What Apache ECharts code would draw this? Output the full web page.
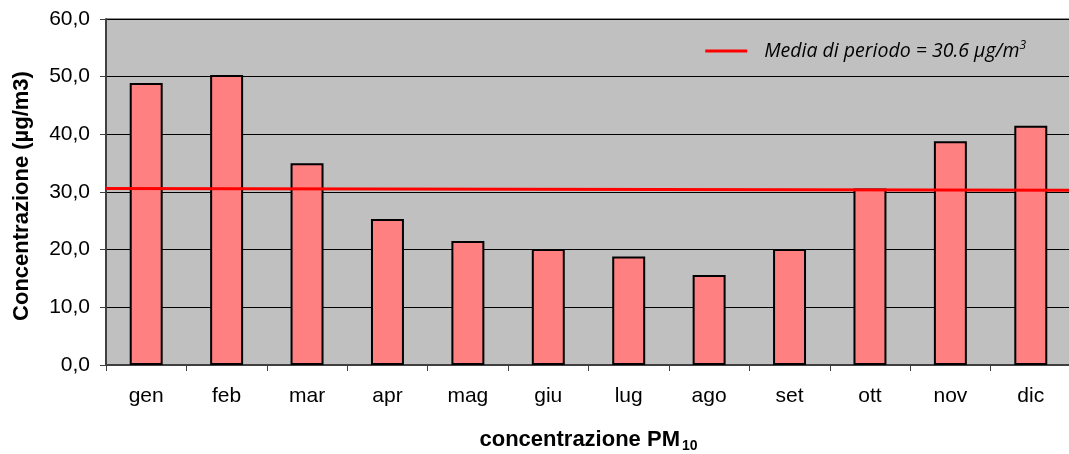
<!DOCTYPE html>
<html>
<head>
<meta charset="utf-8">
<script src="https://cdn.jsdelivr.net/npm/echarts@6/dist/echarts.min.js"></script>
<style>
  html, body { margin: 0; padding: 0; background: #fff; }
  #chart { width: 1069px; height: 454px; }
</style>
</head>
<body>
<div id="chart"></div>
<script>
// dati PM10 mensili (µg/m3)
const mesi = ['gen', 'feb', 'mar', 'apr', 'mag', 'giu', 'lug', 'ago', 'set', 'ott', 'nov', 'dic'];
const concentrazioni = [48.9, 50.3, 35.0, 25.3, 21.5, 20.1, 18.8, 15.6, 20.1, 30.6, 38.8, 41.5];
// linea della media: estremi sinistro e destro dell'area del grafico
const mediaX = [0, 1];
const mediaY = [30.6, 30.3];
const yTicks = [0, 10, 20, 30, 40, 50, 60];

const chart = echarts.init(document.getElementById('chart'));

const font = 'Liberation Sans, Arial, sans-serif';

chart.setOption({
  animation: false,
  backgroundColor: '#ffffff',
  grid: {
    left: 106, right: -2, top: 19, bottom: 89,
    outerBoundsMode: 'none',
    containLabel: false,
    show: true,
    backgroundColor: '#c0c0c0',
    borderWidth: 0
  },
  legend: {
    right: 38, top: 35,
    itemWidth: 42, itemHeight: 3,
    itemGap: 10,
    icon: 'rect',
    data: ['media'],
    formatter: () => '{t|Media di periodo = 30.6 \u00b5g/m}{s|3}',
    textStyle: {
      rich: {
        t: { fontFamily: 'Open Sans', fontStyle: 'italic', fontSize: 19.5, color: '#000', padding: [0, 0, 0, 12] },
        s: { fontFamily: 'Open Sans', fontStyle: 'italic', fontSize: 12, color: '#000', verticalAlign: 'top', padding: [0, 0, 10, 0] }
      }
    }
  },
  xAxis: [
    {
      type: 'category',
      data: mesi,
      axisLine: { lineStyle: { color: '#404040', width: 2 } },
      axisTick: { show: true, length: 6, alignWithLabel: false, lineStyle: { color: '#404040' } },
      axisLabel: { color: '#000', fontFamily: font, fontSize: 21, margin: 21 },
      name: '{a|concentrazione PM}{b|10}',
      nameLocation: 'middle',
      nameGap: 62,
      nameTextStyle: {
        rich: {
          a: { fontFamily: font, fontWeight: 'bold', fontSize: 22, color: '#000' },
          b: { fontFamily: font, fontWeight: 'bold', fontSize: 14, color: '#000', padding: [12, 0, 0, 2] }
        }
      }
    },
    {
      type: 'value',
      min: 0, max: 1,
      show: false
    }
  ],
  yAxis: {
    type: 'value',
    min: 0, max: 60, interval: 10,
    axisLine: { show: true, lineStyle: { color: '#404040', width: 2 } },
    axisTick: { show: true, length: 6, lineStyle: { color: '#404040' } },
    splitLine: { show: true, lineStyle: { color: '#000', width: 1 } },
    axisLabel: {
      color: '#000', fontFamily: font, fontSize: 21, margin: 16,
      formatter: v => yTicks.includes(v) ? v.toFixed(1).replace('.', ',') : ''
    },
    name: 'Concentrazione (\u00b5g/m3)',
    nameLocation: 'middle',
    nameGap: 73,
    nameTextStyle: { fontFamily: font, fontWeight: 'bold', fontSize: 22, color: '#000', padding: [0, 8, 0, 0] }
  },
  series: [
    {
      type: 'bar',
      data: concentrazioni,
      barWidth: '41%',
      itemStyle: { color: '#ff8080', borderColor: '#000', borderWidth: 2 }
    },
    {
      name: 'media',
      type: 'line',
      xAxisIndex: 1,
      data: mediaX.map((x, i) => [x, mediaY[i]]),
      symbol: 'none',
      lineStyle: { color: '#ff0000', width: 3 },
      itemStyle: { color: '#ff0000' },
      z: 5
    }
  ],
  graphic: [
    { type: 'line', shape: { x1: 106, y1: 19, x2: 1069, y2: 19 }, style: { stroke: '#909090', lineWidth: 2 } }
  ]
});

window.addEventListener('resize', () => chart.resize());
</script>
</body>
</html>
